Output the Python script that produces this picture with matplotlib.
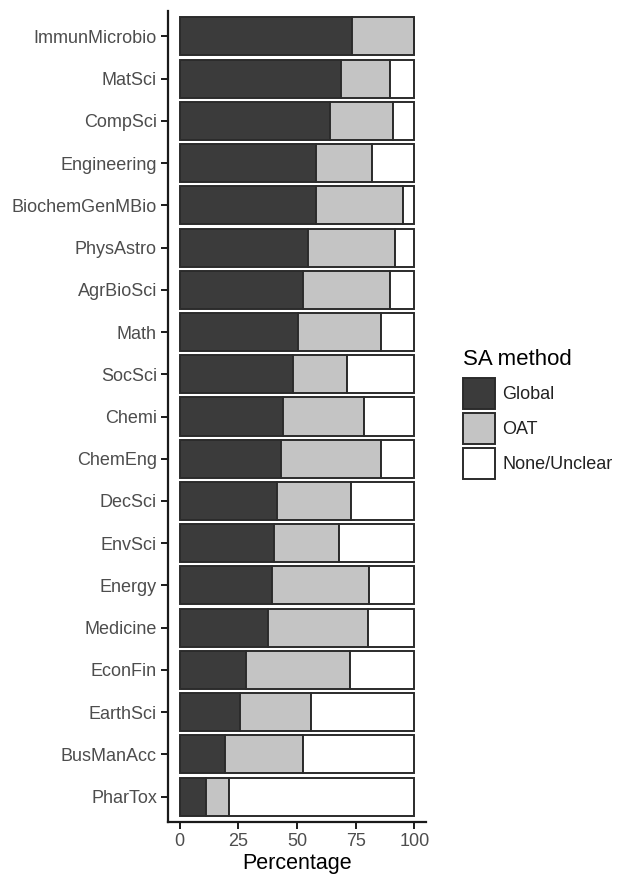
import matplotlib
matplotlib.use('Agg')
import matplotlib.pyplot as plt
import matplotlib.patches as patches
import numpy as np

plt.rcParams['font.family'] = ['Liberation Sans', 'DejaVu Sans']

# fields, sorted by share of global SA (top to bottom)
fields = ['ImmunMicrobio', 'MatSci', 'CompSci', 'Engineering', 'BiochemGenMBio',
          'PhysAstro', 'AgrBioSci', 'Math', 'SocSci', 'Chemi', 'ChemEng', 'DecSci',
          'EnvSci', 'Energy', 'Medicine', 'EconFin', 'EarthSci', 'BusManAcc', 'PharTox']
global_pct = [73.4, 68.7, 64.1, 58.0, 58.0, 54.6, 52.4, 50.3, 48.2, 44.0, 43.3, 41.3,
              40.2, 39.2, 37.6, 28.1, 25.8, 19.2, 11.0]
oat_pct = [26.6, 21.0, 26.8, 24.1, 37.2, 37.3, 37.3, 35.6, 23.3, 34.5, 42.6, 31.8,
           27.9, 41.7, 42.6, 44.4, 30.2, 33.5, 10.1]
none_pct = [100 - g - o for g, o in zip(global_pct, oat_pct)]

labels = ['Global', 'OAT', 'None/Unclear']
colors = ['#3b3b3b', '#c4c4c4', '#ffffff']
edge = '#2b2b2b'

fig = plt.figure(figsize=(6.17, 8.77), dpi=100)
ax = fig.add_axes([168 / 617, 55 / 877, 258 / 617, 811 / 877])

y = np.arange(len(fields))[::-1]
left = np.zeros(len(fields))
for vals, lab, col in zip([global_pct, oat_pct, none_pct], labels, colors):
    ax.barh(y, vals, left=left, height=0.9, color=col, edgecolor=edge,
            linewidth=1.4, label=lab)
    left += np.array(vals)

ax.set_xlim(-5, 105)
ax.set_ylim(-0.6, len(fields) - 0.4)
ax.set_yticks(y)
ax.set_yticklabels(fields)
ax.set_xticks([0, 25, 50, 75, 100])
ax.set_xlabel('Percentage', fontsize=15.5, labelpad=2)

for s in ['top', 'right']:
    ax.spines[s].set_visible(False)
for s in ['left', 'bottom']:
    ax.spines[s].set_linewidth(1.6)
    ax.spines[s].set_color('#1a1a1a')
ax.tick_params(axis='both', labelsize=13, labelcolor='#4d4d4d', length=5,
               width=1.4, color='#1a1a1a', pad=3)

handles = [patches.Patch(facecolor=c, edgecolor=edge, linewidth=1.4) for c in colors]
leg = ax.legend(handles, labels, title='SA method', loc='center left',
                bbox_to_anchor=(456 / 617, 1 - 414 / 877), bbox_transform=fig.transFigure,
                frameon=False, fontsize=13, title_fontsize=16,
                handlelength=1.75, handleheight=2.3, labelspacing=0.2,
                handletextpad=0.4, borderaxespad=0)
leg._legend_box.align = 'left'
leg._legend_box.sep = 6
for t in leg.get_texts():
    t.set_color('#222222')

fig.savefig('out.png', dpi=100)
plt.close()
